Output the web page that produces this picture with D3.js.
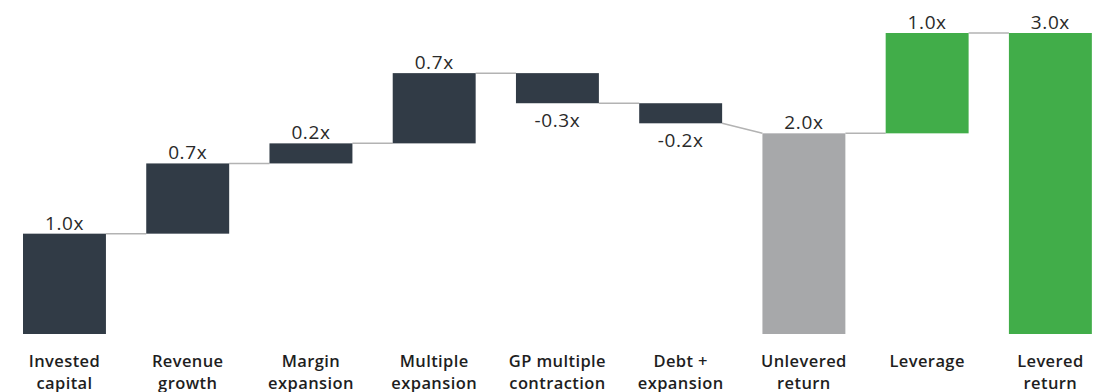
<!DOCTYPE html>
<html>
<head>
<meta charset="utf-8">
<script src="https://cdn.jsdelivr.net/npm/d3@7"></script>
<style>
  body { margin: 0; background: #fff; }
  .val { font-family: "Open Sans", sans-serif; font-size: 19px; letter-spacing: 0.6px; fill: #2a2a2a; }
  .cat { font-family: "Open Sans", sans-serif; font-size: 16.5px; font-weight: 600; letter-spacing: 0.4px; fill: #1e1e1e; }
</style>
</head>
<body>
<div id="chart"></div>
<script>
// waterfall steps
var categories = [
  ["Invested", "capital"],
  ["Revenue", "growth"],
  ["Margin", "expansion"],
  ["Multiple", "expansion"],
  ["GP multiple", "contraction"],
  ["Debt +", "expansion"],
  ["Unlevered", "return"],
  ["Leverage", ""],
  ["Levered", "return"]
];
var stepValues = [1.0, 0.7, 0.2, 0.7, -0.3, -0.2, 2.0, 1.0, 3.0];
var stepKinds = ["total", "delta", "delta", "delta", "delta", "delta", "total", "delta", "total"];
var valueLabels = ["1.0x", "0.7x", "0.2x", "0.7x", "-0.3x", "-0.2x", "2.0x", "1.0x", "3.0x"];
var barColors = ["#313b46", "#313b46", "#313b46", "#313b46", "#313b46", "#313b46", "#a7a8aa", "#41ad49", "#41ad49"];

var svgWidth = 1105;
var svgHeight = 392;

var svg = d3.select("#chart")
  .append("svg")
  .attr("width", svgWidth)
  .attr("height", svgHeight);

// build start / end of each bar
var running = 0;
var bars = stepValues.map(function(v, i) {
  var start, end;
  if (stepKinds[i] === "total") {
    start = 0;
    end = v;
  } else {
    start = running;
    end = running + v;
  }
  running = end;
  return { i: i, start: start, end: end, value: v };
});

var xScale = d3.scaleBand()
  .domain(d3.range(categories.length))
  .range([2.85, 1112])
  .paddingInner(0.327)
  .paddingOuter(0.1635);

var yScale = d3.scaleLinear()
  .domain([0, 3])
  .range([334, 33]);

// connectors
for (var i = 0; i < bars.length - 1; i++) {
  var nxt = bars[i + 1];
  var nextLevel = stepKinds[i + 1] === "total" ? nxt.end : nxt.start;
  svg.append("line")
    .attr("x1", xScale(i) + xScale.bandwidth())
    .attr("x2", xScale(i + 1))
    .attr("y1", yScale(bars[i].end))
    .attr("y2", yScale(nextLevel))
    .attr("stroke", "#b3b3b3")
    .attr("stroke-width", 1.5);
}

svg.selectAll("rect.bar")
  .data(bars)
  .enter()
  .append("rect")
  .attr("class", "bar")
  .attr("x", d => xScale(d.i))
  .attr("width", xScale.bandwidth())
  .attr("y", d => yScale(Math.max(d.start, d.end)))
  .attr("height", d => Math.abs(yScale(d.start) - yScale(d.end)))
  .attr("fill", d => barColors[d.i]);

svg.selectAll("text.val")
  .data(bars)
  .enter()
  .append("text")
  .attr("class", "val")
  .attr("text-anchor", "middle")
  .attr("x", d => xScale(d.i) + xScale.bandwidth() / 2)
  .attr("y", d => d.value < 0 ? yScale(d.end) + 24 : yScale(d.end) - 4)
  .text(d => valueLabels[d.i]);

var catGroups = svg.selectAll("text.cat")
  .data(categories)
  .enter()
  .append("text")
  .attr("class", "cat")
  .attr("text-anchor", "middle")
  .attr("transform", (d, i) => `translate(${xScale(i) + xScale.bandwidth() / 2}, 367)`);

catGroups.each(function(lines) {
  var t = d3.select(this);
  lines.forEach(function(line, k) {
    t.append("tspan")
      .attr("x", 0)
      .attr("y", k * 22)
      .text(line);
  });
});
</script>
</body>
</html>
